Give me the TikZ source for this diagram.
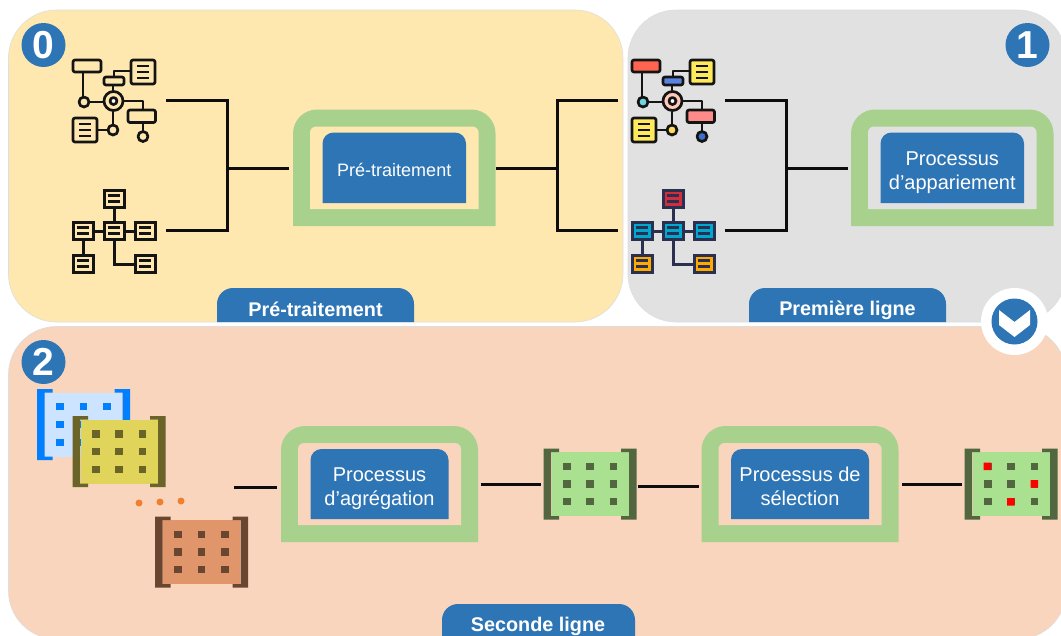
\documentclass[tikz,border=0pt]{standalone}
\usepackage{fontspec}
\setmainfont{Liberation Sans}
\definecolor{bluec}{HTML}{2E75B6}
\definecolor{greenf}{HTML}{A9D18E}
\definecolor{yel}{HTML}{FEE8AF}
\definecolor{gry}{HTML}{E1E1E1}
\definecolor{pch}{HTML}{F8D5BC}
\definecolor{lk}{HTML}{141414}
\definecolor{nvy}{HTML}{2B3050}
\definecolor{icred}{HTML}{FF6450}
\definecolor{icblue}{HTML}{5A82E0}
\definecolor{icyel}{HTML}{FFE85A}
\definecolor{icring}{HTML}{FFC8B8}
\definecolor{iccyan}{HTML}{6FD5E0}
\definecolor{icrose}{HTML}{FF8A8A}
\definecolor{icdeep}{HTML}{3A70D0}
\definecolor{icgold}{HTML}{FFDC5A}
\definecolor{ntred}{HTML}{D22D3A}
\definecolor{ntcyan}{HTML}{00A8D0}
\definecolor{ntamb}{HTML}{FFAA00}
\definecolor{mbl}{HTML}{CCE4FF}
\definecolor{mbd}{HTML}{007FFF}
\definecolor{myl}{HTML}{E0D45A}
\definecolor{myd}{HTML}{6B6428}
\definecolor{mol}{HTML}{E0956B}
\definecolor{mod}{HTML}{6A4530}
\definecolor{mgl}{HTML}{A9E190}
\definecolor{mgd}{HTML}{52663F}
\definecolor{dot}{HTML}{F08030}
\tikzset{
 panel/.style={draw=black!13,line width=0.6pt,rounded corners=48pt},
 wire/.style={draw=black!95,line width=3pt,line join=miter},
 stub/.style={draw=black!95,line width=3pt},
 tabtxt/.style={text=white,font=\bfseries\fontsize{19.8}{22}\selectfont,inner sep=0},
 proc/.style={text=white,align=center,font=\fontsize{20}{24}\selectfont,inner sep=0},
 procs/.style={text=white,align=center,font=\fontsize{18}{24}\selectfont,inner sep=0},
 badge/.style={circle,fill=bluec,minimum size=44pt,inner sep=0,text=white,font=\bfseries\fontsize{39}{39}\selectfont},
 ic/.style={line width=2.7pt,line join=round,line cap=round},
}
\newcommand{\tabshape}[5]{% x0 x1 top bottom radius
 \fill[bluec] (#1,#4) [rounded corners=#5 pt] -- (#1,#3) -- (#2,#3) [sharp corners] -- (#2,#4) -- cycle;
}
% frame: x,y,w,h, inner fill, node name, text offset, node style, text
\newcommand{\procframe}[9]{%
 \fill[greenf] (#1,#2+#4) [rounded corners=24pt] -- (#1,#2) -- (#1+#3,#2) [sharp corners] -- (#1+#3,#2+#4) -- cycle;
 \fill[#5] (#1+17,#2+#4-17) [rounded corners=6pt] -- (#1+17,#2+17) -- (#1+#3-17,#2+17) [sharp corners] -- (#1+#3-17,#2+#4-17) -- cycle;
 \fill[bluec] (#1+29.5,#2+#4-23) [rounded corners=11pt] -- (#1+29.5,#2+23) -- (#1+#3-29.5,#2+23) [sharp corners] -- (#1+#3-29.5,#2+#4-23) -- cycle;
 \node[#8,name=#6] at (#1+#3/2,#2+#4/2+#7) {#9};
}
\newcommand{\docic}[4]{%
 \filldraw[ic,draw=\lc,fill=\fc,rounded corners=2pt] (#1,#2) rectangle (#1+#3,#2+#4);
 \draw[line width=2.2pt,draw=\lc] (#1+#3*.25,#2+#4*.25)--(#1+#3*.75,#2+#4*.25) (#1+#3*.25,#2+#4*.5)--(#1+#3*.75,#2+#4*.5) (#1+#3*.25,#2+#4*.75)--(#1+#3*.75,#2+#4*.75);
}
\newcommand{\flowicon}[9]{% xoff, line, top box, mid box, doc, ring, left bullet, right box, bottom bullet
 \begin{scope}[xshift=#1 pt]
 \def\lc{#2}
 \draw[ic,draw=\lc] (83,72)--(83,101) (84,102)--(113,102) (113,112)--(113,130) (98,130)--(113,130) (113,84)--(113,92)
   (114,78)--(114,71)--(131,71) (124,101)--(143,101)--(143,109) (143,122)--(143,131);
 \filldraw[ic,draw=\lc,fill=#3,rounded corners=2pt] (73,60) rectangle (101,72);
 \filldraw[ic,draw=\lc,fill=#4,rounded corners=2pt] (104,77) rectangle (124,85);
 \def\fc{#5}
 \docic{131}{60}{24}{24}
 \docic{73}{118}{24}{24}
 \filldraw[ic,draw=\lc,fill=#6] (113.5,101) circle (9.5);
 \filldraw[ic,draw=\lc,fill=white] (113.5,101) circle (3.5);
 \filldraw[ic,draw=\lc,fill=#7] (84,102) circle (5);
 \filldraw[ic,draw=\lc,fill=#8,rounded corners=2pt] (128,110) rectangle (155.5,122.5);
 \filldraw[ic,draw=\lc,fill=#9] (143,136.5) circle (5);
 \end{scope}
}
\newcommand{\netbox}[3]{%
 \filldraw[line width=3pt,draw=\lc,fill=#3] (#1,#2) rectangle (#1+20,#2+17);
 \draw[line width=2.3pt,draw=\lc] (#1+4,#2+5.5)--(#1+16,#2+5.5) (#1+4,#2+11.5)--(#1+16,#2+11.5);
}
\newcommand{\neticon}[5]{%
 \begin{scope}[xshift=#1 pt]
 \def\lc{#2}
 \draw[line width=3pt,draw=\lc] (83,231)--(135,231) (114,198)--(114,231) (83,231)--(83,264) (114,231)--(114,264)--(135,264);
 \netbox{104}{190}{#3}
 \netbox{73}{222}{#4}\netbox{104}{222}{#4}\netbox{135}{222}{#4}
 \netbox{73}{255}{#5}\netbox{135}{255}{#5}
 \end{scope}
}
\newcommand{\matic}[4]{%
 \begin{scope}[shift={(#1 pt,-#2 pt)}]
 \fill[#3] (-38.5,-32) rectangle (38.5,32);
 \fill[#4] (-46.5,-35.5) rectangle (-31,-32) (-46.5,-35.5) rectangle (-39,35.5) (-46.5,32) rectangle (-31,35.5);
 \fill[#4] (46.5,-35.5) rectangle (31,-32) (46.5,-35.5) rectangle (39,35.5) (46.5,32) rectangle (31,35.5);
 \foreach \i in {-23.3,0,23.3}\foreach \j in {-17.8,0,17.8}{\fill[#4] (\i-3.8,\j-3.6) rectangle (\i+3.8,\j+3.6);}
 \end{scope}
}
\begin{document}
\begin{tikzpicture}[x=1pt,y=-1pt]
\useasboundingbox (0,0) rectangle (1061,635);
\fill[white] (0,0) rectangle (1061,635);
\clip (0,0) rectangle (1061,635);
% panels
\path[panel,fill=pch] (8.5,326.5) rectangle (1066,639);
\path[panel,fill=yel] (8.5,10) rectangle (623,322);
\path[panel,fill=gry] (628,10) rectangle (1066,322);
% tabs
\tabshape{217}{414}{288}{322}{16}
\tabshape{749}{946}{288}{322}{16}
\tabshape{442}{635}{604}{640}{16}
\node[tabtxt,name=tabA] at (315.5,309) {Pré-traitement};
\node[tabtxt,name=tabB] at (847.5,310.5) {Première ligne};
\node[tabtxt,name=tabC] at (538,626.5) {Seconde ligne};
% badges
\node[badge,name=b0] at (43.5,45) {0};
\node[badge,name=b1] at (1027.5,45) {1};
\node[badge,name=b2] at (43.5,362) {2};
% chevron
\node[circle,fill=white,minimum size=67pt,inner sep=0,name=chevw] at (1014.5,321.5) {};
\node[circle,fill=bluec,minimum size=46pt,inner sep=0,name=chevb] at (1014.5,321.5) {};
\fill[white] (999,310)--(1014.5,322)--(1030,310)--(1030,325)--(1014.5,337)--(999,325)--cycle;
% frames
\procframe{293}{109.5}{202.5}{116.5}{yel}{p0}{2}{procs}{Pré-traitement}
\procframe{851}{109.5}{202.5}{116.5}{gry}{p1}{5}{proc}{Processus\\d’appariement}
\procframe{281}{426}{197}{116}{pch}{p2}{5}{proc}{Processus\\d’agrégation}
\procframe{701.5}{426}{197}{116}{pch}{p3}{2.5}{proc}{Processus de\\sélection}
% icons
\flowicon{0}{lk}{yel}{yel}{yel}{yel}{yel}{yel}{yel}
\filldraw[ic,draw=lk,fill=yel] (113,130) circle (5);
\flowicon{559}{lk}{icred}{icblue}{icyel}{icring}{iccyan}{icrose}{icdeep}
\filldraw[ic,draw=lk,fill=icgold] (672,130) circle (5);
\neticon{0}{lk}{yel}{yel}{yel}
\neticon{559}{nvy}{ntred}{ntcyan}{ntamb}
% matrices
\matic{83.5}{424.5}{mbl}{mbd}
\matic{119}{451.7}{myl}{myd}
\matic{201.5}{552}{mol}{mod}
\matic{590}{484}{mgl}{mgd}
\matic{1011}{484}{mgl}{mgd}
\fill[red] (983.5,462.5) rectangle (991,470) (1030.5,480) rectangle (1038,487.5) (1007,498) rectangle (1014.5,505.5);
\foreach \p in {(139,503),(160,502),(181,501)} \fill[dot] \p circle (3.5);
% wires
\coordinate (a1) at (166,100); \coordinate (a2) at (166,230); \coordinate (am) at (227,168); \coordinate (ae) at (289,168);
\draw[wire] (a1)-|(am) |- (a2); \draw[stub] (am)--(ae);
\coordinate (b1) at (725,100); \coordinate (b2) at (725,230); \coordinate (bm) at (786,168); \coordinate (be) at (848,168);
\draw[wire] (b1)-|(bm) |- (b2); \draw[stub] (bm)--(be);
\coordinate (c1) at (618,100); \coordinate (c2) at (618,230); \coordinate (cm) at (557,168); \coordinate (cs) at (496,168);
\draw[wire] (c1)-|(cm) |- (c2); \draw[stub] (cs)--(cm);
\coordinate (d0) at (234,487); \coordinate (d1) at (277,487);
\draw[wire] (d0)--(d1);
\coordinate (e0) at (480.5,484); \coordinate (e1) at (540.5,484); \draw[wire] (e0)--(e1);
\coordinate (f0) at (638,486); \coordinate (f1) at (699,486); \draw[wire] (f0)--(f1);
\coordinate (g0) at (902,484); \coordinate (g1) at (962,484); \draw[wire] (g0)--(g1);
\end{tikzpicture}
\end{document}
